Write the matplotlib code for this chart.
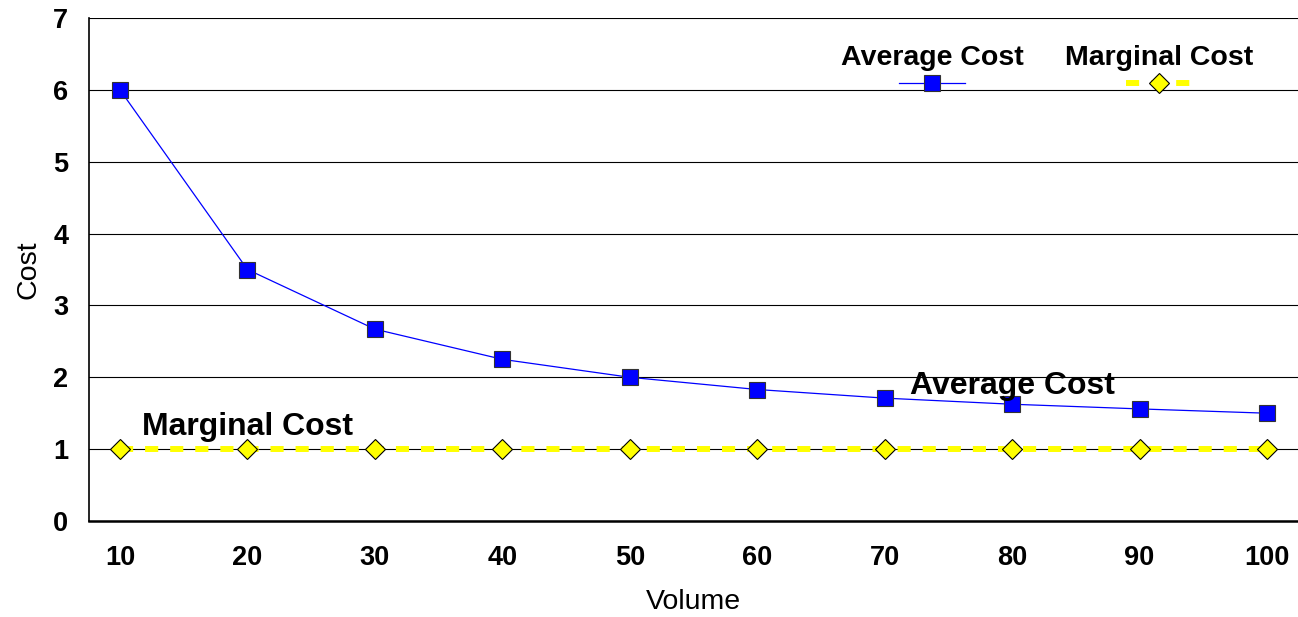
import matplotlib
matplotlib.use("Agg")
import matplotlib.pyplot as plt

volume = [10, 20, 30, 40, 50, 60, 70, 80, 90, 100]
average_cost = [6.0, 3.5, 2.67, 2.25, 2.0, 1.83, 1.71, 1.625, 1.56, 1.5]
marginal_cost = [1, 1, 1, 1, 1, 1, 1, 1, 1, 1]
y_ticks = [0, 1, 2, 3, 4, 5, 6, 7]

plt.rcParams['font.family'] = ['Liberation Sans', 'DejaVu Sans']

fig = plt.figure(figsize=(12.98, 6.17), dpi=100)
ax = fig.add_axes([89/1298, 1-521/617, 1-89/1298, (521-18)/617])

ax.set_xlim(7.57, 102.43)
ax.set_ylim(0, 7)
ax.set_yticks(y_ticks)
ax.set_xticks(volume)
ax.yaxis.grid(True, color='black', linewidth=0.8)
ax.set_axisbelow(True)

for s in ['top', 'right']:
    ax.spines[s].set_visible(False)
ax.spines['left'].set_linewidth(1.2)
ax.spines['bottom'].set_linewidth(1.8)

ax.tick_params(axis='both', length=0, labelsize=19.5)
ax.tick_params(axis='y', pad=15)
ax.tick_params(axis='x', pad=17.5)
for lbl in ax.get_xticklabels() + ax.get_yticklabels():
    lbl.set_fontweight('bold')

mc_line, = ax.plot(volume, marginal_cost, color='#FFFF00', linewidth=4.3,
                   dashes=(2.2, 2.0), dash_capstyle='butt',
                   marker='D', markersize=10, markerfacecolor='#FFFF00',
                   markeredgecolor='black', markeredgewidth=0.8, zorder=3)
ac_line, = ax.plot(volume, average_cost, color='#0000FF', linewidth=0.9,
                   marker='s', markersize=11, markerfacecolor='#0000FF',
                   markeredgecolor='#333333', markeredgewidth=0.8, zorder=4)

ax.text(80, 1.773, 'Average Cost', fontsize=23, fontweight='bold',
        ha='center', va='baseline', zorder=5)
ax.text(20, 1.2, 'Marginal Cost', fontsize=23, fontweight='bold',
        ha='center', va='baseline', zorder=5)

ax.set_xlabel('Volume', fontsize=20.5, labelpad=12.5)
ax.set_ylabel('Cost', fontsize=20.5, labelpad=8)

common = dict(frameon=False, loc='upper center', bbox_transform=fig.transFigure,
              handlelength=4.75, handletextpad=0, fontsize=10, numpoints=1,
              labelspacing=0.42, borderpad=0.2,
              title_fontproperties={'weight': 'bold', 'size': 20.5})
leg1 = ax.legend([ac_line], [''], title='Average Cost',
                 bbox_to_anchor=(932/1298, 1-35/617), **common)
ax.add_artist(leg1)
leg2 = ax.legend([mc_line], [''], title='Marginal Cost',
                 bbox_to_anchor=(1159/1298, 1-35/617), **common)

fig.savefig('out.png', dpi=100)
